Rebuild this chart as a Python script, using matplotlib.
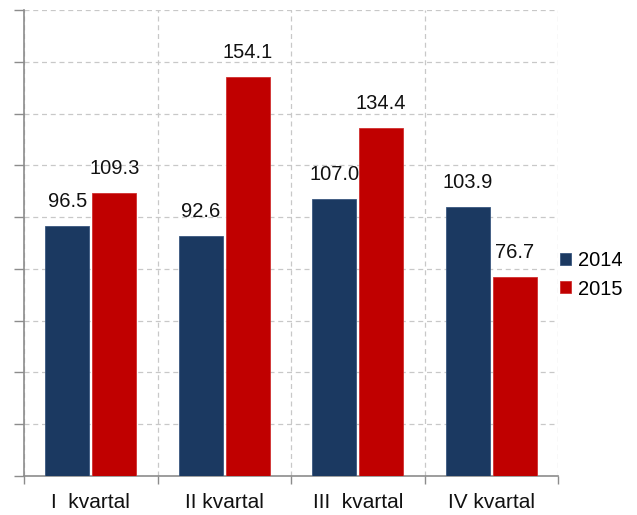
import numpy as np
import matplotlib
matplotlib.use("Agg")
import matplotlib.pyplot as plt

# data
quarters = ["I  kvartal", "II kvartal", "III  kvartal", "IV kvartal"]
years = ["2014", "2015"]
v2014 = [96.5, 92.6, 107.0, 103.9]
v2015 = [109.3, 154.1, 134.4, 76.7]

plt.rcParams["font.family"] = ["Liberation Sans", "DejaVu Sans"]

blue = "#1B3961"
red = "#C00000"
grid_c = "#C8C8C8"
axis_c = "#8C8C8C"

fig = plt.figure(figsize=(6.37, 5.15), dpi=100)
ax = fig.add_axes([24 / 637, 39 / 515, 534 / 637, 466 / 515])

x = np.arange(len(quarters))
w = 0.33
off = 0.176
b1 = ax.bar(x - off, v2014, w, color=blue, edgecolor="#3A5880", linewidth=0.6, label=years[0], zorder=3)
b2 = ax.bar(x + off, v2015, w, color=red, edgecolor="#D03030", linewidth=0.6, label=years[1], zorder=3)

for bars, vals in ((b1, v2014), (b2, v2015)):
    for r, v in zip(bars, vals):
        ax.annotate(f"{v:.1f}", (r.get_x() + r.get_width() / 2, v),
                    xytext=(0, 11), textcoords="offset points",
                    ha="center", va="bottom", fontsize=14.5, color="#111111")

ax.set_xlim(-0.5, 3.5)
ax.set_ylim(0, 180)
ax.set_yticks(np.arange(0, 181, 20))
ax.set_yticklabels([])
ax.tick_params(axis="y", direction="out", length=7, width=1, color=axis_c)

ax.set_xticks(x)
ax.set_xticklabels(quarters, fontsize=15, color="#111111")
ax.set_xticks(np.arange(-0.5, 4, 1), minor=True)
ax.tick_params(axis="x", which="major", length=0, pad=12)
ax.tick_params(axis="x", which="minor", direction="out", length=6, width=1, color=axis_c)

ax.grid(axis="y", which="major", linestyle=(0, (4, 3)), color=grid_c, linewidth=0.9, zorder=0)
ax.grid(axis="x", which="minor", linestyle=(0, (4, 3)), color=grid_c, linewidth=0.9, zorder=0)
ax.set_axisbelow(True)

for s in ("top", "right"):
    ax.spines[s].set_visible(False)
for s in ("left", "bottom"):
    ax.spines[s].set_color(axis_c)
    ax.spines[s].set_linewidth(1.2)

fig.legend(loc="center left", bbox_to_anchor=(550 / 637, 1 - 275 / 515), frameon=False,
           fontsize=14.5, handlelength=0.55, handleheight=0.55, handletextpad=0.35,
           labelspacing=0.45, borderpad=0)

fig.savefig("out.png", dpi=100)
